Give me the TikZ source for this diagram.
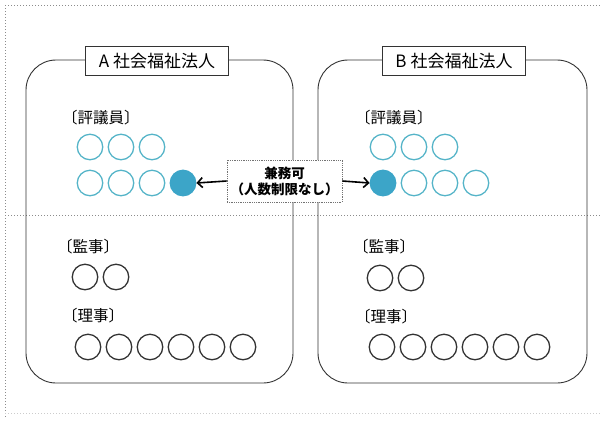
\documentclass[tikz,border=0pt]{standalone}
\usepackage{fontspec}
\setmainfont{Noto Sans CJK JP}
\usetikzlibrary{arrows.meta}
\definecolor{hyogiline}{RGB}{85,180,200}
\definecolor{hyogifill}{RGB}{60,165,200}

\begin{document}
\begin{tikzpicture}[x=1pt, y=-1pt,
    member/.style={circle, draw, line width=1.3pt, minimum size=25.5pt, inner sep=0pt},
    hyogi/.style={member, draw=hyogiline},
    kenmu/.style={member, draw=hyogifill, fill=hyogifill},
    yakuin/.style={member, draw=black!80},
    corp/.style={draw=black!80, line width=0.9pt, rounded corners=30pt},
    corptitle/.style={draw=black!80, fill=white, line width=0.8pt, minimum width=143pt,
        minimum height=29pt, inner sep=2pt, font=\fontsize{17}{17}\selectfont},
    role/.style={anchor=west, inner sep=0pt, font=\fontsize{15.5}{15.5}\selectfont},
    frame/.style={draw=black!45, dotted, line width=1pt}]
    \useasboundingbox (0,0) rectangle (602,421);

    % Frame
    \draw[frame] (5,5) -- (602,5);
    \draw[frame] (5,5) -- (5,418);
    \draw[frame] (5,215) -- (602,215);
    \draw[frame, draw=black!20] (5,413) -- (602,413);

    % Corporations
    \draw[corp] (26,60) rectangle (293,383);
    \draw[corp] (318,60) rectangle (587,383);
    \node[corptitle] (atitle) at (157,61) {A\hspace{4pt}社会福祉法人};
    \node[corptitle] (btitle) at (454,61) {B\hspace{4pt}社会福祉法人};

    % A: councillors, auditors, directors
    \node[role] (ahyogi) at (62,118) {〔評議員〕};
    \foreach \i in {1,2,3} {
        \node[hyogi] (a-h1-\i) at (59+31*\i,147) {};
        \node[hyogi] (a-h2-\i) at (59+31*\i,183) {};
    }
    \node[kenmu] (a-h2-4) at (183,183) {};
    \node[role] (akanji) at (57,247) {〔監事〕};
    \foreach \i in {1,2}
        \node[yakuin] (a-k-\i) at (54+31*\i,277) {};
    \node[role] (ariji) at (62,316) {〔理事〕};
    \foreach \i in {1,...,6}
        \node[yakuin] (a-r-\i) at (57+31*\i,347) {};

    % B: councillors, auditors, directors
    \node[role] (bhyogi) at (355,118) {〔評議員〕};
    \node[kenmu] (b-h2-1) at (383,183) {};
    \foreach \i in {1,2,3} {
        \node[hyogi] (b-h1-\i) at (352+31*\i,147) {};
        \node[hyogi] (b-h2-\i+1) at (383+31*\i,183) {};
    }
    \node[role] (bkanji) at (353,247) {〔監事〕};
    \foreach \i in {1,2}
        \node[yakuin] (b-k-\i) at (349+31*\i,278) {};
    \node[role] (briji) at (355,317) {〔理事〕};
    \foreach \i in {1,...,6}
        \node[yakuin] (b-r-\i) at (351+31*\i,347) {};

    % Concurrent post
    \node[draw=black!55, densely dotted, fill=white, line width=0.8pt, minimum width=115pt,
        minimum height=42pt, inner sep=1pt, align=center,
        font=\bfseries\fontsize{13.5}{16}\selectfont] (kenmu) at (284.5,181) {兼務可\\（人数制限なし）};
    \draw[-{Straight Barb[length=5pt]}, line width=1.6pt] (kenmu.west) -- (a-h2-4.east);
    \draw[-{Straight Barb[length=5pt]}, line width=1.6pt] (kenmu.east) -- (b-h2-1.west);
\end{tikzpicture}
\end{document}
